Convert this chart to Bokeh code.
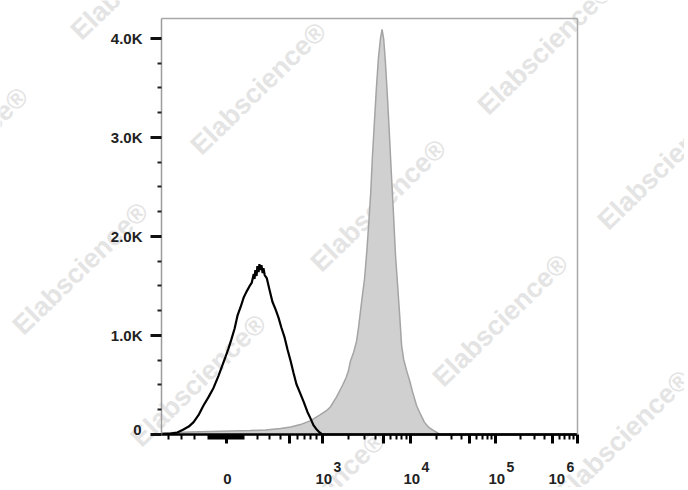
import numpy as np
from bokeh.plotting import figure
from bokeh.models import Range1d, FixedTicker, Label, CustomJSTickFormatter, LinearAxis
from bokeh.embed import file_html
from bokeh.resources import INLINE

# ---------------- data (display channels 0..1024, counts) ----------------
BLACK_CH = [0, 22, 39, 54, 67, 79, 91, 103, 116, 128, 140, 150, 158, 165, 172, 180, 187,
            195, 202, 209, 217, 222, 227, 229, 231, 234, 236, 239, 241, 244, 246, 249, 251,
            254, 259, 266, 273, 281, 288, 295, 303, 310, 318, 325, 332, 342, 350, 359, 367,
            374, 382, 389, 396, 1024]
BLACK_COUNT = [5, 8, 20, 50, 80, 125, 195, 290, 380, 470, 590, 700, 790, 870, 960, 1070, 1200,
               1290, 1380, 1440, 1500, 1530, 1620, 1570, 1660, 1600, 1700, 1640, 1720, 1660, 1710,
               1630, 1680, 1610, 1580, 1460, 1340, 1260, 1180, 1080, 980, 860, 740, 620, 510,
               410, 330, 230, 160, 95, 50, 20, 0, 0]

GRAY_CH = [0, 35, 71, 121, 170, 219, 256, 293, 318, 342, 367, 391, 406, 416, 431, 446, 455,
           460, 465, 473, 480, 485, 490, 495, 500, 505, 510, 515, 519, 524, 529, 534, 539,
           543, 547, 551, 556, 561, 566, 571, 576, 581, 586, 591, 596, 603, 611, 618, 628,
           638, 647, 657, 670, 682, 687, 1024]
GRAY_COUNT = [15, 20, 25, 30, 35, 40, 45, 60, 75, 100, 140, 200, 240, 280, 380, 500, 580,
              640, 740, 830, 940, 1080, 1250, 1420, 1580, 1830, 2120, 2440, 2790, 3150, 3500,
              3800, 4000, 4090, 3990, 3770, 3420, 3030, 2620, 2230, 1810, 1520, 1220, 900,
              760, 650, 540, 430, 290, 200, 125, 75, 40, 10, 0, 0]

# axis scale (biexponential display): intensity value -> display channel
SCALE_VALUES = [-400, -300, -200, -100, 0, 100, 200, 300, 400, 500, 600, 700, 800, 900,
                1e3, 1e4, 1e5, 1e6]
SCALE_CHANNELS = [17, 49, 81, 116, 160, 202, 237, 266, 292, 315, 335, 352, 367, 382,
                  396, 613, 822, 1024]

X_DECADES = [1e3, 1e4, 1e5, 1e6]
X_DECADE_EXP = ["3", "4", "5", "6"]
Y_TICKS = [0, 1000, 2000, 3000, 4000]
Y_TICK_LABELS = ["0", "1.0K", "2.0K", "3.0K", "4.0K"]

WATERMARK = "Elabscience®"
WATERMARK_PAGE_XY = [(138, -27), (-40, 153), (258, 88), (545, 48), (378, 205), (80, 268),
                     (500, 320), (665, 163), (198, 380), (317, 497), (622, 436)]

SV = np.array(SCALE_VALUES, float)
SC = np.array(SCALE_CHANNELS, float)


def to_channel(v):
    v = np.asarray(v, float)
    lin = np.interp(v, SV[:15], SC[:15])
    lg = np.interp(np.log10(np.maximum(v, 1e3)), [3, 4, 5, 6], SC[14:])
    return np.where(v <= 1e3, lin, lg)


# ticks
labeled = [0.0] + X_DECADES
mid = [500, 5e3, 5e4, 5e5]
minor_vals = [-400, -300, -200, -100] + [v for v in range(-90, 100, 10) if v != 0] + \
             [100, 200, 300, 400, 600, 700, 800, 900]
for d in [1e3, 1e4, 1e5]:
    minor_vals += [m * d for m in (2, 3, 4, 6, 7, 8, 9)]
major_x = sorted(float(c) for c in to_channel(labeled + mid))
minor_x = sorted(float(c) for c in to_channel(minor_vals))

X_MAX = 1024
Y_MAX = 4200

# canvas geometry: the plot box sits at page px (161..577, 18..434)
W, H = 684, 487
BOX_L, BOX_R, BOX_T, BOX_B = 161, 577, 18, 434
sx = X_MAX / (BOX_R - BOX_L)
sy = Y_MAX / (BOX_B - BOX_T)
x_lo, x_hi = -BOX_L * sx, (W - BOX_L) * sx
y_lo, y_hi = -(H - BOX_B) * sy, BOX_B * sy

p = figure(width=W, height=H, x_range=Range1d(x_lo, x_hi), y_range=Range1d(y_lo, y_hi),
           output_backend="svg", toolbar_location=None,
           x_axis_location=None, y_axis_location=None, min_border=0)
p.grid.visible = False
p.background_fill_color = "white"
p.border_fill_color = "white"
p.outline_line_color = None

# watermarks (behind data)
for (px, py) in WATERMARK_PAGE_XY:
    p.add_layout(Label(x=(px - BOX_L) * sx, y=(BOX_B - py) * sy, text=WATERMARK, angle=0.77,
                       text_align="center", text_baseline="middle",
                       text_font="Liberation Sans", text_font_style="bold",
                       text_font_size="27px", text_color="#e4e4e4", level="underlay"))

# gray filled histogram
p.varea(x=GRAY_CH, y1=0, y2=GRAY_COUNT, fill_color="#d0d0d0")
p.line(GRAY_CH, GRAY_COUNT, line_color="#a4a4a4", line_width=1.5)
# black open histogram
p.line(BLACK_CH, BLACK_COUNT, line_color="black", line_width=2.2)

# box border (top / right) as plain axes
top = LinearAxis(fixed_location=Y_MAX, bounds=(0, X_MAX), ticker=FixedTicker(ticks=[]),
                 axis_line_color="#a8a8a8", axis_line_width=1.5,
                 major_tick_line_color=None, minor_tick_line_color=None)
right = LinearAxis(fixed_location=X_MAX, bounds=(0, Y_MAX), ticker=FixedTicker(ticks=[]),
                   axis_line_color="#a8a8a8", axis_line_width=1.5,
                   major_tick_line_color=None, minor_tick_line_color=None)
p.add_layout(top, "above")
p.add_layout(right, "right")

lab_kw = dict(text_font="Liberation Sans", text_font_style="bold", text_color="#222222",
              text_baseline="middle")

# y axis
ya = LinearAxis(fixed_location=0, bounds=(0, Y_MAX))
ya.ticker = FixedTicker(ticks=Y_TICKS, minor_ticks=[v for v in range(250, 4200, 250) if v % 1000])
ya.major_label_overrides = {t: (s if t else "") for t, s in zip(Y_TICKS, Y_TICK_LABELS)}
ya.axis_line_color = "#9c9c9c"
ya.axis_line_width = 1.5
ya.major_tick_line_color = "#111111"
ya.major_tick_line_width = 3
ya.major_tick_out = 11
ya.major_tick_in = 0
ya.minor_tick_line_color = "#222222"
ya.minor_tick_line_width = 2
ya.minor_tick_out = 4
ya.minor_tick_in = 0
ya.major_label_standoff = 8
ya.major_label_text_font = "Liberation Sans"
ya.major_label_text_font_style = "bold"
ya.major_label_text_font_size = "15px"
ya.major_label_text_color = "#222222"
p.add_layout(ya, "left")
# the zero label sits slightly raised, as in FlowJo output
p.add_layout(Label(x=0, y=Y_TICKS[0], x_offset=-20, y_offset=5, text=Y_TICK_LABELS[0],
                   text_align="right", text_font_size="15px", **lab_kw))

# x axis
xa = LinearAxis(fixed_location=0, bounds=(0, X_MAX))
xa.ticker = FixedTicker(ticks=major_x, minor_ticks=minor_x)
xa.formatter = CustomJSTickFormatter(code="return ''")
xa.axis_line_color = "black"
xa.axis_line_width = 2.5
xa.major_tick_line_color = "black"
xa.major_tick_line_width = 3
xa.major_tick_out = 9
xa.major_tick_in = 0
xa.minor_tick_line_color = "black"
xa.minor_tick_line_width = 2
xa.minor_tick_out = 5
xa.minor_tick_in = 0
p.add_layout(xa, "below")

p.add_layout(Label(x=float(to_channel(0)), y=0, x_offset=1, y_offset=-44, text="0",
                   text_align="center", text_font_size="15px", **lab_kw))
for dec, ex in zip(X_DECADES, X_DECADE_EXP):
    cx = float(to_channel(dec))
    off = -29 if dec == X_DECADES[-1] else -7
    p.add_layout(Label(x=cx, y=0, x_offset=off, y_offset=-44, text="10",
                       text_align="left", text_font_size="15px", **lab_kw))
    p.add_layout(Label(x=cx, y=0, x_offset=off + 18, y_offset=-32, text=ex,
                       text_align="left", text_font_size="14px", **lab_kw))

open("out.html", "w").write(file_html(p, INLINE))
